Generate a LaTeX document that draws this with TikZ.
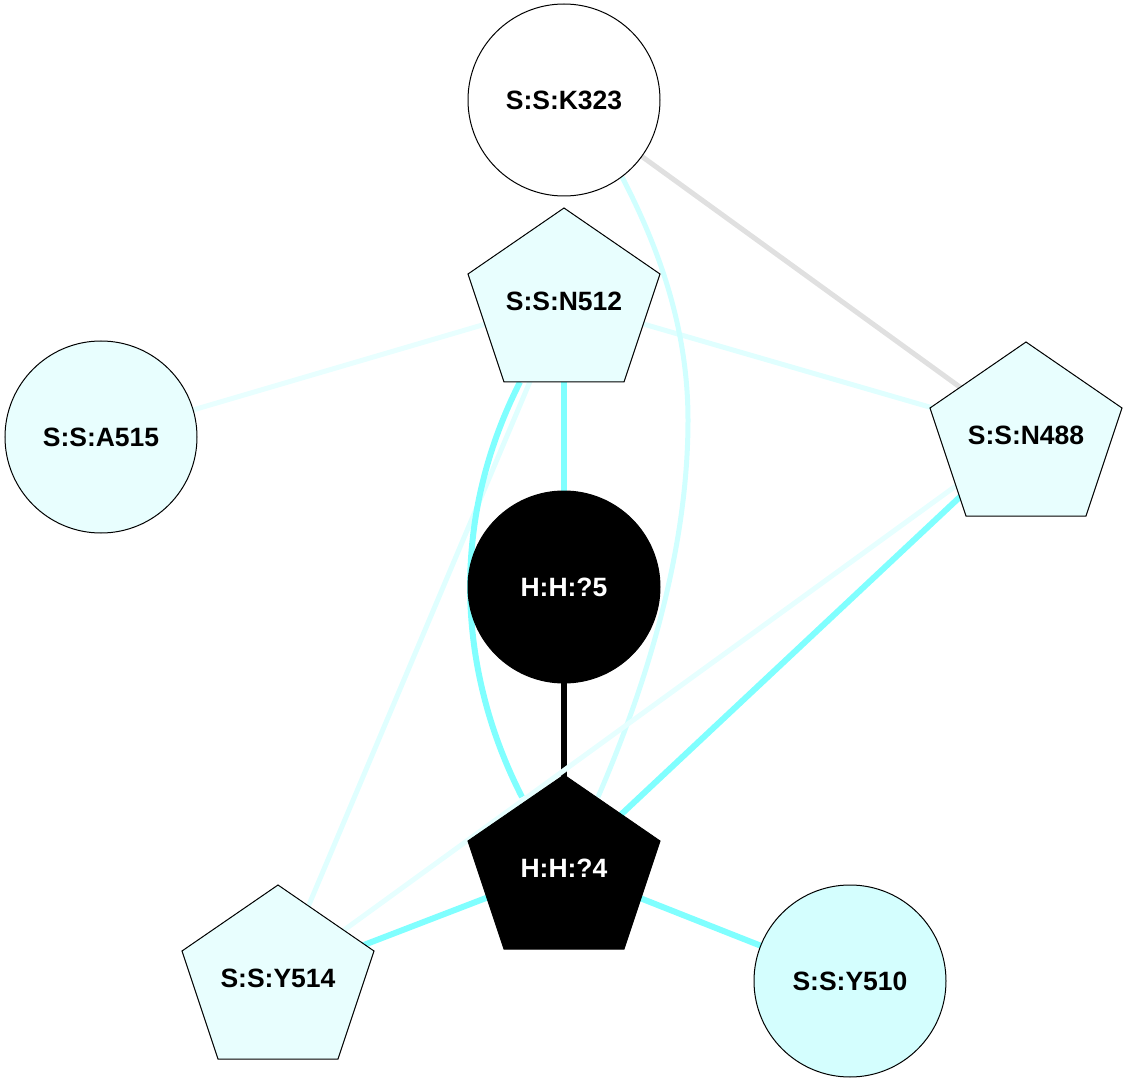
\documentclass[tikz,border=0pt]{standalone}
\usepackage{fontspec}
\setmainfont{Liberation Sans}
\usetikzlibrary{calc}
\pgfdeclarelayer{edges}
\pgfdeclarelayer{shapes}
\pgfsetlayers{edges,shapes,main}
\definecolor{cyanS}{HTML}{80FFFF}
\definecolor{cyanK}{HTML}{D0FFFF}
\definecolor{cyanL}{HTML}{E0FFFF}
\definecolor{cyanA}{HTML}{E8FFFF}
\definecolor{cyanY}{HTML}{E6FFFF}
\definecolor{grayE}{HTML}{E0E0E0}
\definecolor{fillL}{HTML}{E8FEFE}
\definecolor{fillY}{HTML}{D4FEFE}
\newcommand\drawpent[2]{%
  \begin{scope}[shift={(#1.center)}]
    \path[pentshape, fill=#2] (0,-93) -- (96,-27) -- (60,81) -- (-60,81) -- (-96,-27) -- cycle;
  \end{scope}}
\begin{document}
\begin{tikzpicture}[x=1pt,y=-1pt,
  every node/.style={font=\bfseries\fontsize{26.5}{30}\selectfont},
  circnode/.style={circle, draw=black, line width=1pt, minimum size=192pt, inner sep=0pt},
  pentlabel/.style={inner sep=0pt},
  pentshape/.style={draw=black, line width=1pt, line join=miter},
  thinedge/.style={line width=5pt},
  thickedge/.style={line width=6pt}]
\useasboundingbox (0,0) rectangle (1128,1083);

% nodes
\node[circnode, fill=white] (K323) at (564,100) {S:S:K323};
\node[pentlabel] (N512) at (564,301) {S:S:N512};
\node[circnode, fill=fillL] (A515) at (101,437) {S:S:A515};
\node[pentlabel] (N488) at (1026,435) {S:S:N488};
\node[circnode, fill=black, text=white] (H5) at (564,587) {H:H:?5};
\node[pentlabel, text=white] (H4) at (564,868) {H:H:?4};
\node[pentlabel] (Y514) at (278,978) {S:S:Y514};
\node[circnode, fill=fillY] (Y510) at (850,981) {S:S:Y510};

% pentagon outlines
\begin{pgfonlayer}{shapes}
\drawpent{N512}{fillL}
\drawpent{N488}{fillL}
\drawpent{H4}{black}
\drawpent{Y514}{fillL}
\end{pgfonlayer}

% edges
\begin{pgfonlayer}{edges}
\draw[thinedge, grayE] (K323.center) -- (N488.center);
\draw[thinedge, cyanA] (N512.center) -- (A515.center);
\draw[thinedge, cyanL] (N512.center) -- (N488.center);
\draw[thinedge, cyanL] (N512.center) -- (Y514.center);
\draw[thinedge, cyanK] (K323.-53) .. controls (660,250) and (688,330) .. (688,420)
  .. controls (688,560) and (640,700) .. ($(H4.center)+(34,-71)$);
\draw[thickedge, cyanS] ($(N512.center)+(-44,81)$) .. controls (445,530) and (462,680) .. ($(H4.center)+(-42,-71)$);
\draw[thickedge, cyanS] (N512.center) -- (H5.center);
\draw[thickedge, black] (H5.center) -- (H4.center);
\draw[thickedge, cyanS] (N488.center) -- (H4.center);
\draw[thinedge, cyanY] (N488.center) -- (Y514.center);
\draw[thickedge, cyanS] (H4.center) -- (Y514.center);
\draw[thickedge, cyanS] (H4.center) -- (Y510.center);
\end{pgfonlayer}
\end{tikzpicture}
\end{document}
